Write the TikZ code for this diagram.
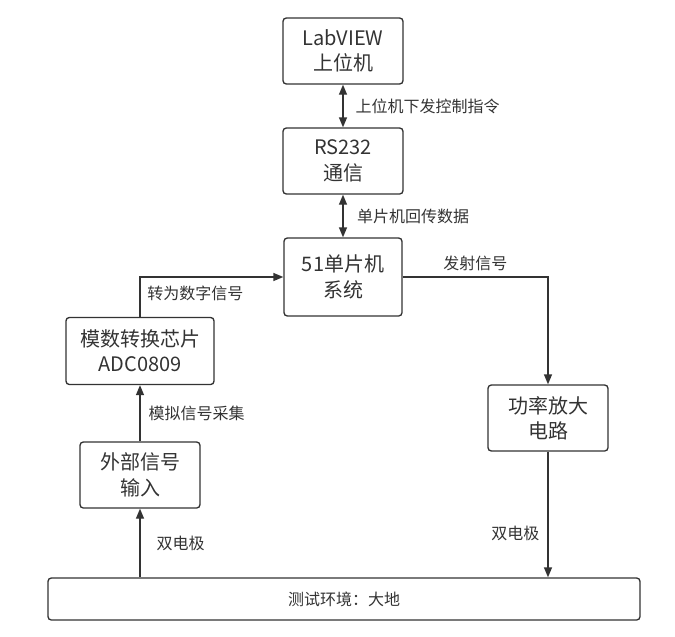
\documentclass[tikz,border=0pt]{standalone}
\usepackage{fontspec}
\setmainfont{Noto Sans CJK SC}
\usetikzlibrary{arrows.meta}
\usetikzlibrary{positioning}
\definecolor{linegray}{HTML}{333333}
\tikzset{
    block/.style={
           rectangle,
           rounded corners=2.5pt,
           draw=linegray, line width=1pt,
           minimum width=90pt,
           minimum height=49.5pt,
           inner sep=2pt,
           align=center,
           text=linegray,
           font=\fontsize{15pt}{19pt}\selectfont,
           },
    lbl/.style={
           inner sep=0pt,
           text=linegray,
           font=\fontsize{12pt}{14pt}\selectfont,
           },
}

\begin{document}
\begin{tikzpicture}[x=0.75pt,y=-0.75pt,>={Triangle[length=7.5pt,width=6pt]},
  line width=1pt,draw=linegray]
 \useasboundingbox (0,0) rectangle (675,636);

 % First node: host computer
 \node[block] (PC) at (343,51) {LabVIEW\\上位机};

 % Next node: serial link
 \node[block,
 below of=PC,
 node distance=82.5pt] (RS)
 {RS232\\通信};

 % Microcontroller
 \node[block,
 below of=RS,
 node distance=87pt,
 minimum width=88.5pt,
 minimum height=58.5pt] (MCU)
 {51单片机\\系统};

 % A/D converter
 \node[block,
 minimum width=111pt,
 minimum height=50.25pt] (ADC) at (140,351)
 {模数转换芯片\\ADC0809};

 % signal input
 \node[block,
 below of=ADC,
 node distance=93pt] (Ext)
 {外部信号\\输入};

 % power amplifier
 \node[block] (Amp) at (548,418) {功率放大\\电路};

 % ground
 \node[block,
 minimum width=444pt,
 minimum height=31.5pt,
 font=\fontsize{12pt}{14pt}\selectfont] (Ground) at (344,599)
 {测试环境：大地};

 % draw the paths and print the labels beside them
 \path[<->] (PC) edge node[lbl,right=9pt] {上位机下发控制指令} (RS)
       (RS) edge node[lbl,right=10pt] {单片机回传数据} (MCU)
 ;
 \draw[->] (ADC.north) |- node[lbl,pos=0.5,anchor=north west,xshift=5pt,yshift=-6pt] {转为数字信号} (MCU.west);
 \draw[->] (MCU.east) -| node[lbl,pos=0.25,above=4pt] {发射信号} (Amp.north);
 \draw[->] (Ext) -- node[lbl,right=6pt] {模拟信号采集} (ADC);
 \draw[->] (Ground.north -| Ext.south) -- node[lbl,right=12pt] {双电极} (Ext.south);
 \draw[->] (Amp.south) -- node[lbl,pos=0.65,left=6pt] {双电极} (Amp.south |- Ground.north);
\end{tikzpicture}
\end{document}
